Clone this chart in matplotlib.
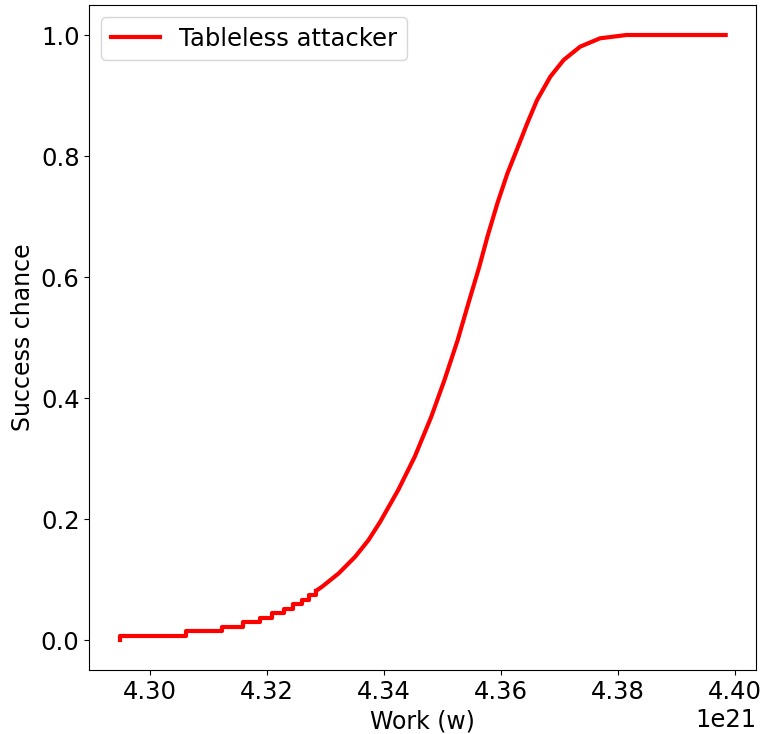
import numpy as np
import matplotlib
matplotlib.use('Agg')
import matplotlib.pyplot as plt

# low end of the curve: discrete steps (work in units of 1e21)
step_x = [4.29479, 4.29479, 4.30623, 4.31227, 4.31584, 4.31885, 4.32093,
          4.32292, 4.32450, 4.32603, 4.32716, 4.32847]
step_y = [0.0, 0.0074, 0.0149, 0.0223, 0.0297, 0.0372, 0.0446,
          0.0520, 0.0595, 0.0669, 0.0743, 0.0818]

# rest of the curve
curve_x = [4.32942, 4.33226, 4.33509, 4.33735, 4.33934, 4.34245, 4.34528,
           4.34810, 4.35037, 4.35263, 4.35462, 4.35632, 4.35772, 4.35942,
           4.36112, 4.36338, 4.36452, 4.36621, 4.36847, 4.37075, 4.37357,
           4.37696, 4.38149, 4.39847]
curve_y = [0.0881, 0.1102, 0.1377, 0.1650, 0.1950, 0.2480, 0.3030,
           0.3690, 0.4300, 0.4960, 0.5620, 0.6170, 0.6670, 0.7220,
           0.7710, 0.8260, 0.8540, 0.8926, 0.9311, 0.9587, 0.9807,
           0.9945, 1.0, 1.0]

scale = 1e21
sx = np.array(step_x) * scale
cx = np.r_[step_x[-1], curve_x] * scale
cy = np.r_[step_y[-1], curve_y]

fig = plt.figure(figsize=(7.64, 7.34), dpi=100)
ax = fig.add_axes([89.3 / 764, 1 - 670.3 / 734, (756 - 89.3) / 764, (670.3 - 4.75) / 734])

ax.step(sx, step_y, where='post', color='red', linewidth=3)
ax.plot(cx, cy, color='red', linewidth=3, label='Tableless attacker')

ax.set_xticks(np.array([4.30, 4.32, 4.34, 4.36, 4.38, 4.40]) * scale)
ax.set_yticks([0.0, 0.2, 0.4, 0.6, 0.8, 1.0])
ax.tick_params(labelsize=17.5)
ax.xaxis.get_offset_text().set_fontsize(17.5)
ax.set_xlabel('Work (w)', fontsize=17)
ax.set_ylabel('Success chance', fontsize=17)
ax.legend(loc='upper left', fontsize=17.5)

fig.savefig('out.png', dpi=100)
